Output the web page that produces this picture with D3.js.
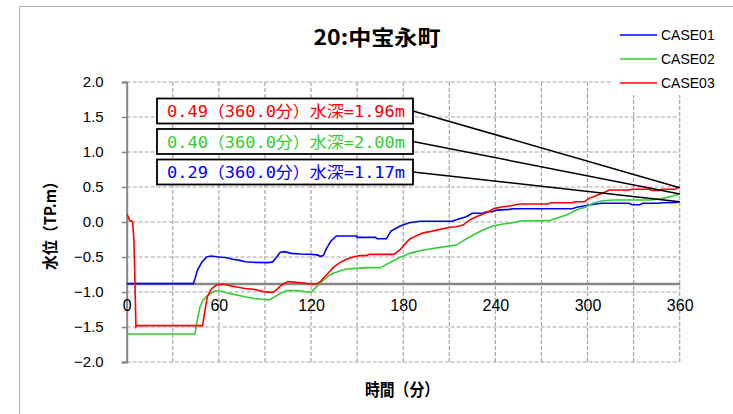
<!DOCTYPE html>
<html><head><meta charset="utf-8">
<script src="https://cdn.jsdelivr.net/npm/d3@7"></script>
<style>html,body{margin:0;padding:0;background:#fff;}svg{display:block;}</style>
</head><body>
<svg id="c" width="733" height="414"></svg>
<script>
const title = "20:中宝永町";
const seriesNames = ["CASE01", "CASE02", "CASE03"];
const seriesColors = ["#0000ff", "#33cc33", "#ff0000"];
const xTicks = [0, 60, 120, 180, 240, 300, 360];
const yTicks = [2.0, 1.5, 1.0, 0.5, 0.0, -0.5, -1.0, -1.5, -2.0];
const groundLevel = -0.88;

const case01 = [[0,-0.88],[43.5,-0.88],[44.2,-0.83],[46,-0.69],[49,-0.57],[52,-0.50],[55,-0.486],[60,-0.50],[65,-0.51],[69,-0.533],[73,-0.545],[77,-0.567],[82,-0.576],[92,-0.58],[95,-0.57],[98,-0.49],[100,-0.433],[103,-0.424],[107,-0.448],[113,-0.457],[119,-0.46],[124,-0.47],[126,-0.49],[128,-0.48],[130,-0.38],[133,-0.27],[136.6,-0.20],[149.6,-0.20],[150,-0.22],[162,-0.22],[163,-0.24],[169,-0.24],[172,-0.13],[178,-0.057],[184,-0.01],[191,0.01],[212,0.01],[214,0.03],[221,0.076],[225,0.124],[232,0.124],[234,0.147],[238,0.147],[241,0.17],[249,0.18],[252,0.19],[290,0.19],[293,0.21],[303,0.25],[309,0.267],[327,0.267],[329,0.247],[334,0.247],[336,0.267],[347,0.267],[348,0.276],[358,0.28],[360,0.29]];
const case02 = [[0,-1.60],[44.4,-1.60],[46,-1.40],[47.7,-1.21],[49.8,-1.114],[53,-1.043],[57.4,-0.986],[61,-0.986],[65,-1.01],[69,-1.03],[77,-1.067],[82,-1.09],[93,-1.114],[96.5,-1.067],[100.8,-1.01],[104,-0.98],[111,-0.98],[118,-1.0],[120.3,-1.0],[123.6,-0.924],[128,-0.83],[132,-0.76],[134.4,-0.733],[138.7,-0.70],[143,-0.671],[149.6,-0.662],[156,-0.652],[165.5,-0.652],[169,-0.605],[173.4,-0.557],[179,-0.495],[184.3,-0.448],[190.8,-0.41],[197.3,-0.386],[203.8,-0.362],[210.3,-0.343],[214.6,-0.33],[219,-0.267],[225.4,-0.186],[232,-0.114],[238.4,-0.057],[245,-0.029],[251.5,-0.01],[256,0.014],[275,0.019],[279.7,0.052],[286.2,0.10],[292.7,0.17],[299.2,0.219],[303.5,0.267],[309,0.30],[316.5,0.314],[341,0.314],[349,0.338],[355.5,0.371],[360,0.40]];
const case03 = [[0,0.10],[0.5,0.10],[2,0.02],[3.8,0.005],[4.7,-0.26],[5.4,-0.87],[6,-1.50],[7,-1.476],[8,-1.48],[49.4,-1.48],[51,-1.257],[52.5,-1.067],[55.3,-0.95],[58.5,-0.90],[62.8,-0.89],[67.2,-0.91],[77,-0.95],[82.3,-0.96],[89,-0.995],[95.4,-1.005],[97.5,-0.97],[100.8,-0.90],[105,-0.852],[110.6,-0.862],[118,-0.88],[123.6,-0.886],[125.7,-0.86],[130,-0.757],[134.4,-0.652],[138.7,-0.58],[143,-0.533],[147.4,-0.50],[151.7,-0.48],[156,-0.48],[158,-0.462],[174,-0.462],[177.8,-0.40],[181,-0.32],[184.3,-0.243],[188.6,-0.195],[193,-0.155],[197.3,-0.138],[203.8,-0.105],[210.3,-0.076],[214.6,-0.067],[219,-0.043],[223.3,0.03],[227.6,0.076],[234,0.133],[239.5,0.195],[245,0.219],[249.3,0.229],[255.8,0.257],[274,0.257],[276,0.276],[290,0.276],[292,0.29],[298,0.29],[301,0.338],[306.7,0.386],[312,0.433],[314,0.457],[327,0.457],[329,0.467],[340,0.467],[342,0.45],[347,0.45],[348,0.467],[357,0.467],[359,0.495],[360,0.49]];
const seriesData = [case01, case02, case03];

const annTexts = ["0.49（360.0分）水深=1.96m", "0.40（360.0分）水深=2.00m", "0.29（360.0分）水深=1.17m"];
const annColors = ["#ff0000", "#33cc33", "#0000ff"];
const annValues = [0.49, 0.40, 0.29];

const svg = d3.select("#c");
const x = d3.scaleLinear().domain([0, 360]).range([126.7, 679.7]);
const y = d3.scaleLinear().domain([-2, 2]).range([362, 82]);

// outer frame
svg.append("rect").attr("x", 19.5).attr("y", 6.5).attr("width", 800).attr("height", 500)
  .attr("fill", "#fff").attr("stroke", "#b4b4b4").attr("stroke-width", 1);

// grid
const grid = svg.append("g");
grid.selectAll(".hg").data(yTicks).join("line")
  .attr("x1", x(0)).attr("x2", x(360)).attr("y1", d => y(d)).attr("y2", d => y(d))
  .attr("stroke", "#a6a6a6").attr("stroke-width", 1.2).attr("stroke-dasharray", "4,2");
grid.selectAll(".vg").data(d3.range(30, 361, 30)).join("line")
  .attr("x1", d => x(d)).attr("x2", d => x(d)).attr("y1", y(2)).attr("y2", y(-2))
  .attr("stroke", "#a6a6a6").attr("stroke-width", 1.2).attr("stroke-dasharray", "4,2");

// y axis
const yAxis = d3.axisLeft(y).tickValues(yTicks).tickFormat(d3.format(".1f")).tickSize(5).tickPadding(18);
const ga = svg.append("g").attr("transform", `translate(${x(0)},0)`).call(yAxis);
ga.select(".domain").attr("stroke", "#868686").attr("stroke-width", 2);
ga.selectAll(".tick line").attr("stroke", "#868686").attr("stroke-width", 1.5);
ga.selectAll("text").attr("font-family", "'Liberation Sans', Arial, sans-serif").attr("font-size", 15).attr("fill", "#000");

// x axis at ground level
const xAxis = d3.axisBottom(x).tickValues(xTicks).tickFormat(d3.format("d")).tickSize(0).tickPadding(16);
const gx = svg.append("g").attr("transform", `translate(0,${y(groundLevel)})`).call(xAxis);
gx.select(".domain").attr("stroke", "#868686").attr("stroke-width", 2.5);
gx.selectAll("text").attr("font-family", "'Liberation Sans', Arial, sans-serif").attr("font-size", 16).attr("fill", "#000");

// lines
const line = d3.line().x(d => x(d[0])).y(d => y(d[1]));
svg.append("g").selectAll("path").data(seriesData).join("path")
  .attr("d", line).attr("fill", "none")
  .attr("stroke", (d, i) => seriesColors[i]).attr("stroke-width", 1.6);

// annotations
const boxX = 157, boxW = 256, boxH = 25, boxYs = [98.5, 129, 159.5];
const ann = svg.append("g").selectAll("g").data(annTexts).join("g");
ann.append("line")
  .attr("x1", boxX + boxW).attr("y1", (d, i) => boxYs[i] + boxH / 2)
  .attr("x2", x(360)).attr("y2", (d, i) => y(annValues[i]))
  .attr("stroke", "#000").attr("stroke-width", 1.5);
ann.append("rect").attr("x", boxX).attr("y", (d, i) => boxYs[i]).attr("width", boxW).attr("height", boxH)
  .attr("fill", "#fff").attr("stroke", "#000").attr("stroke-width", 1.8);
ann.append("text").attr("x", boxX + 10).attr("y", (d, i) => boxYs[i] + boxH / 2 + 6)
  .attr("font-family", "'DejaVu Sans Mono', 'Noto Sans CJK JP', monospace").attr("font-size", 16)
  .attr("textLength", 238).attr("lengthAdjust", "spacingAndGlyphs")
  .attr("fill", (d, i) => annColors[i]).text(d => d);

// legend
const lg = svg.append("g");
lg.append("rect").attr("x", 611).attr("y", 20).attr("width", 122).attr("height", 75).attr("fill", "#fff");
const li = lg.selectAll("g").data(seriesNames).join("g").attr("transform", (d, i) => `translate(0,${35 + i * 24})`);
li.append("line").attr("x1", 620).attr("x2", 657).attr("stroke", (d, i) => seriesColors[i]).attr("stroke-width", 1.6);
li.append("text").attr("x", 661).attr("y", 5).attr("font-family", "'Liberation Sans', Arial, sans-serif")
  .attr("font-size", 14).attr("fill", "#000").text(d => d);

// titles
svg.append("text").attr("x", 377).attr("y", 45).attr("text-anchor", "middle")
  .attr("font-family", "'Noto Sans CJK JP', sans-serif").attr("font-weight", "bold").attr("font-size", 21)
  .attr("textLength", 127).attr("lengthAdjust", "spacingAndGlyphs").text(title);
svg.append("text").attr("transform", "translate(56,222) rotate(-90)").attr("text-anchor", "middle")
  .attr("font-family", "'Noto Sans CJK JP', sans-serif").attr("font-weight", "bold").attr("font-size", 16)
  .attr("textLength", 96).attr("lengthAdjust", "spacingAndGlyphs").text("水位（TP.m）");
svg.append("text").attr("x", 402).attr("y", 396).attr("text-anchor", "middle")
  .attr("font-family", "'Noto Sans CJK JP', sans-serif").attr("font-weight", "bold").attr("font-size", 17)
  .attr("textLength", 74).attr("lengthAdjust", "spacingAndGlyphs").text("時間（分）");
</script>
</body></html>
